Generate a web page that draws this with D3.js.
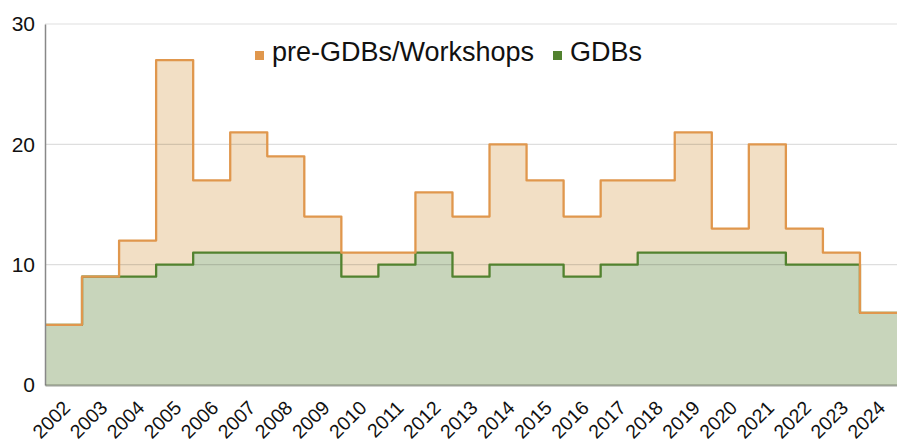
<!DOCTYPE html>
<html>
<head>
<meta charset="utf-8">
<script src="https://cdn.jsdelivr.net/npm/d3@7"></script>
<style>
	body { margin: 0; background: #fff; }
	text { font-family: "Liberation Sans", Arial, sans-serif; fill: #111; }
</style>
</head>
<body>
<svg id="chart" width="897" height="444"></svg>
<script>
// Chart data
var years = ["2002", "2003", "2004", "2005", "2006", "2007", "2008", "2009", "2010", "2011", "2012",
	"2013", "2014", "2015", "2016", "2017", "2018", "2019", "2020", "2021", "2022", "2023", "2024"]
var preGdbs = [5, 9, 12, 27, 17, 21, 19, 14, 11, 11, 16, 14, 20, 17, 14, 17, 17, 21, 13, 20, 13, 11, 6]
var gdbs = [5, 9, 9, 10, 11, 11, 11, 11, 9, 10, 11, 9, 10, 10, 9, 10, 11, 11, 11, 11, 10, 10, 6]
var yTicks = [0, 10, 20, 30]
var seriesNames = ["pre-GDBs/Workshops", "GDBs"]

var svg = d3.select("#chart")
var margin = {top: 24, right: 0, bottom: 59, left: 45}
var width = +svg.attr("width") - margin.left - margin.right
var height = +svg.attr("height") - margin.top - margin.bottom
var g = svg.append("g").attr("transform", "translate(" + margin.left + "," + margin.top + ")")

var x = d3.scaleBand().domain(years).range([0, width]).padding(0)
var y = d3.scaleLinear().domain([0, 30]).range([height, 0])

// Each year is a flat step across its band
function steps(values) {
	var pts = []
	years.forEach(function(yr, i) {
		pts.push({x: x(yr), v: values[i]})
		pts.push({x: x(yr) + x.bandwidth(), v: values[i]})
	})
	return pts
}

var area = d3.area().x(function(d) { return d.x }).y0(height).y1(function(d) { return y(d.v) })
var line = d3.line().x(function(d) { return d.x }).y(function(d) { return y(d.v) })

// Fills
g.append("path").attr("d", area(steps(preGdbs))).attr("fill", "#f2dfc5")
g.append("path").attr("d", area(steps(gdbs))).attr("fill", "#c8d5bb")

// Gridlines drawn over the fills so they show through
g.append("g")
	.selectAll("line")
	.data(yTicks.slice(1))
	.enter().append("line")
	.attr("x1", 0).attr("x2", width)
	.attr("y1", function(d) { return y(d) }).attr("y2", function(d) { return y(d) })
	.attr("stroke", "rgba(0,0,0,0.13)")
	.attr("stroke-width", 1.2)

// Step lines
g.append("path").attr("d", line(steps(gdbs)))
	.attr("fill", "none").attr("stroke", "#52822f").attr("stroke-width", 2.3).attr("stroke-linejoin", "round")
g.append("path").attr("d", line(steps(preGdbs)))
	.attr("fill", "none").attr("stroke", "#e0974d").attr("stroke-width", 2.3).attr("stroke-linejoin", "round")

// Axes
var yAxis = g.append("g")
	.call(d3.axisLeft(y).tickValues(yTicks).tickSize(0).tickPadding(10))
yAxis.select(".domain").attr("stroke", "#888").attr("stroke-width", 1.5)
yAxis.selectAll("text").style("font-size", "21px").attr("fill", "#111")

var xAxis = g.append("g")
	.attr("transform", "translate(0," + height + ")")
	.call(d3.axisBottom(x).tickSize(0).tickPadding(0))
xAxis.select(".domain").attr("stroke", "rgba(60,70,50,0.5)").attr("stroke-width", 2)
xAxis.selectAll("text")
	.style("font-size", "19.5px")
	.attr("fill", "#111")
	.attr("text-anchor", "end")
	.attr("dy", null)
	.attr("y", 0)
	.attr("transform", "translate(8,24) rotate(-45)")

// Legend
var legend = svg.append("g").attr("transform", "translate(255,61)")
var colors = ["#e0974d", "#52822f"]
var offsets = [0, 298]
seriesNames.forEach(function(name, i) {
	legend.append("rect")
		.attr("x", offsets[i]).attr("y", -10)
		.attr("width", 9).attr("height", 9)
		.attr("fill", colors[i])
	legend.append("text")
		.attr("x", offsets[i] + 17).attr("y", 0)
		.style("font-size", "27px")
		.text(name)
})
</script>
</body>
</html>
